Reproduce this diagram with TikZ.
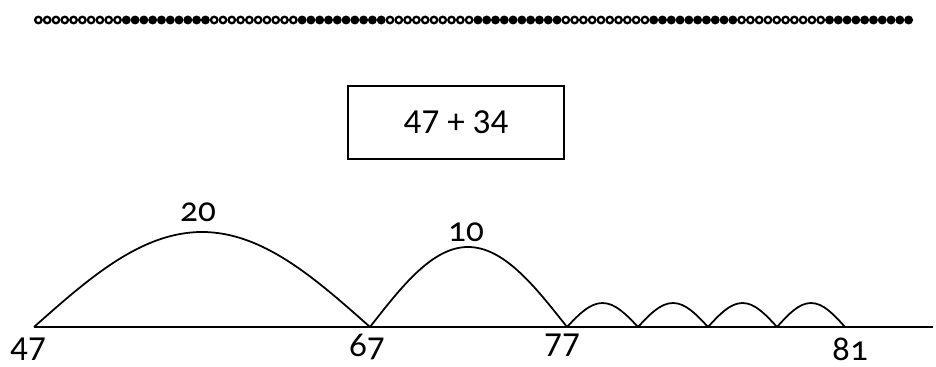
\documentclass[tikz,border=0pt]{standalone}
\usepackage{fontspec}
\setmainfont{Carlito}
\newfontfamily\oldfig{Carlito}[Numbers=OldStyle]
\usetikzlibrary{positioning,calc}
\tikzset{
  bead/.style={circle, draw=black, line width=1.3pt, inner sep=0pt, minimum size=0.13cm},
  jump/.style={line width=1pt, draw=black},
  numlbl/.style={font=\fontsize{20}{22}\selectfont, inner sep=0pt},
  steplbl/.style={font=\fontsize{20}{22}\selectfont\oldfig, inner sep=0pt},
}

\begin{document}
\begin{tikzpicture}[x=0.02cm, y=-0.02cm]
  \useasboundingbox (0,0) rectangle (936,367);
  % bead string, ten beads to a colour
  \foreach \g/\col in {0/white,1/black,2/white,3/black,4/white,5/black,6/white,7/black,8/white,9/black}
    \foreach \k in {0,...,9}
      \node[bead, fill=\col] (b\g\k) at ({38.4+(10*\g+\k)*8.79},20) {};
  % the sum
  \node[draw, line width=1pt, minimum width=4.32cm, minimum height=1.46cm, numlbl] (sum) at (456,122.5) {47 + 34};
  % number line
  \coordinate (n47) at (34,327);
  \coordinate (n67) at (370,327);
  \coordinate (n77) at (567,327);
  \coordinate (s1) at (638,327);
  \coordinate (s2) at (708,327);
  \coordinate (s3) at (777,327);
  \coordinate (n81) at (845,327);
  \coordinate (lineend) at (933,327);
  \draw[line width=1pt] (n47) -- (lineend);
  % jumps of twenty and ten
  \coordinate (t20) at (202,232);
  \coordinate (t10) at (468,247);
  \draw[jump] (n47) sin (t20) cos (n67);
  \draw[jump] (n67) sin (t10) cos (n77);
  % jumps of one
  \foreach \a/\b in {n77/s1, s1/s2, s2/s3, s3/n81}
    \draw[jump] (\a) sin ($(\a)!0.5!(\b)+(0,-24)$) cos (\b);
  % labels
  \node[steplbl] (l20) at (198,212) {20};
  \node[steplbl] (l10) at (466,232) {10};
  \node[numlbl] (l47) at (28,349) {47};
  \node[steplbl] (l67) at (367,347) {67};
  \node[numlbl] (l77) at (562,345) {77};
  \node[steplbl] (l81) at (850,349) {81};
\end{tikzpicture}
\end{document}
